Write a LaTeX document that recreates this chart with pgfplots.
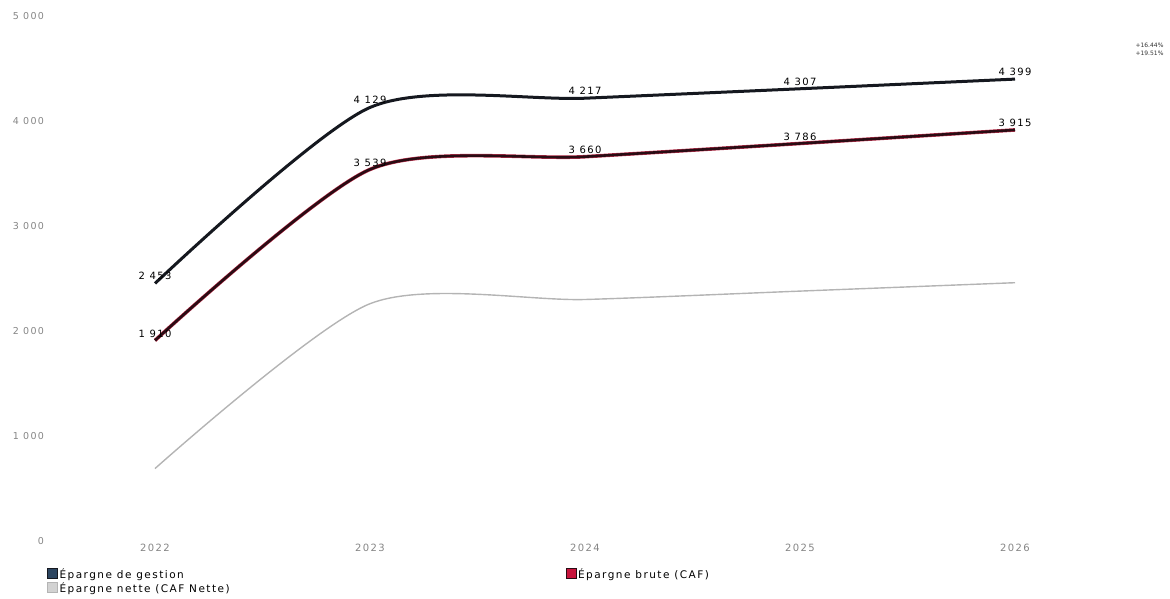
\documentclass[border=0pt]{standalone}
\usepackage{fontspec}
\setmainfont{DejaVu Sans}
\newfontfamily\lblfont[LetterSpace=14]{DejaVu Sans}
\usepackage{pgfplots}
\usepackage{pgfplotstable}
\pgfplotsset{compat=1.18}

\definecolor{gestionline}{HTML}{15181F}
\definecolor{gestionkey}{HTML}{2C4560}
\definecolor{bruteline}{HTML}{2A0C14}
\definecolor{brutered}{HTML}{C0324E}
\definecolor{brutekey}{HTML}{C8143C}
\definecolor{netteline}{HTML}{B4B4B4}
\definecolor{nettekey}{HTML}{D2D2D2}
\definecolor{ticktext}{HTML}{858585}

% Épargne par exercice (k€)
\pgfplotstableread{
annee valeur
2022 2453
2023 4129
2024 4217
2025 4307
2026 4399
}\gestion
\pgfplotstableread{
annee valeur
2022 1910
2023 3539
2024 3660
2025 3786
2026 3915
}\brute
\pgfplotstableread{
annee valeur
2022 690
2023 2260
2024 2300
2025 2380
2026 2460
}\nette

\begin{document}
\begin{tikzpicture}[x=1pt,y=1pt]
\useasboundingbox (0,0) rectangle (1170,598);
\begin{axis}[
  at={(47.5pt,57pt)}, anchor=south west,
  scale only axis, width=1075pt, height=525pt,
  xmin=2021.5, xmax=2026.5, ymin=0, ymax=5000,
  clip=false,
  axis line style={draw=none},
  major tick length=0pt,
  xtick={2022,2023,2024,2025,2026},
  xticklabels={2022,2023,2024,2025,2026},
  ytick={0,1000,2000,3000,4000,5000},
  /pgf/number format/1000 sep={\ },
  /pgf/number format/assume math mode=true,
  yticklabel style={font=\lblfont\fontsize{9.5}{11}\selectfont, text=ticktext},
  xticklabel style={font=\lblfont\fontsize{10}{11}\selectfont, text=ticktext},
  every node near coord/.append style={font=\lblfont\fontsize{10}{11}\selectfont, text=black, yshift=-1.5pt},
  legend columns=2,
  legend cell align=left,
  legend style={at={(-3.5pt,-24pt)}, anchor=north west, draw=none, fill=none,
    font=\lblfont\fontsize{10.5}{12}\selectfont, row sep=-1.5pt,
    /tikz/every even column/.append style={column sep=334pt}},
  legend image code/.code={\draw[#1] (0pt,-3.5pt) rectangle (10pt,6.5pt);},
]
% Épargne nette
\addplot[netteline, line width=1.4pt, smooth, tension=0.45, forget plot]
  table[x=annee, y=valeur] {\nette};
% Épargne brute : liseré rouge sous le trait sombre
\addplot[brutered, line width=3.6pt, smooth, tension=0.45, forget plot]
  table[x=annee, y=valeur] {\brute};
\addplot[bruteline, line width=2.6pt, smooth, tension=0.45, forget plot,
  nodes near coords]
  table[x=annee, y=valeur] {\brute};
% Épargne de gestion
\addplot[gestionline, line width=3pt, smooth, tension=0.45, forget plot,
  nodes near coords]
  table[x=annee, y=valeur] {\gestion};

\addlegendimage{fill=gestionkey, draw=gestionline}
\addlegendentry{Épargne de gestion}
\addlegendimage{fill=brutekey, draw=bruteline}
\addlegendentry{Épargne brute (CAF)}
\addlegendimage{fill=nettekey, draw=netteline}
\addlegendentry{Épargne nette (CAF Nette)}
\end{axis}

% Évolutions 2022-2026 en marge
\node[anchor=east, font=\fontsize{6}{7}\selectfont, text=black!80] at (1167,553) {+16.44\%};
\node[anchor=east, font=\fontsize{6}{7}\selectfont, text=black!80] at (1167,545) {+19.51\%};
\end{tikzpicture}
\end{document}
